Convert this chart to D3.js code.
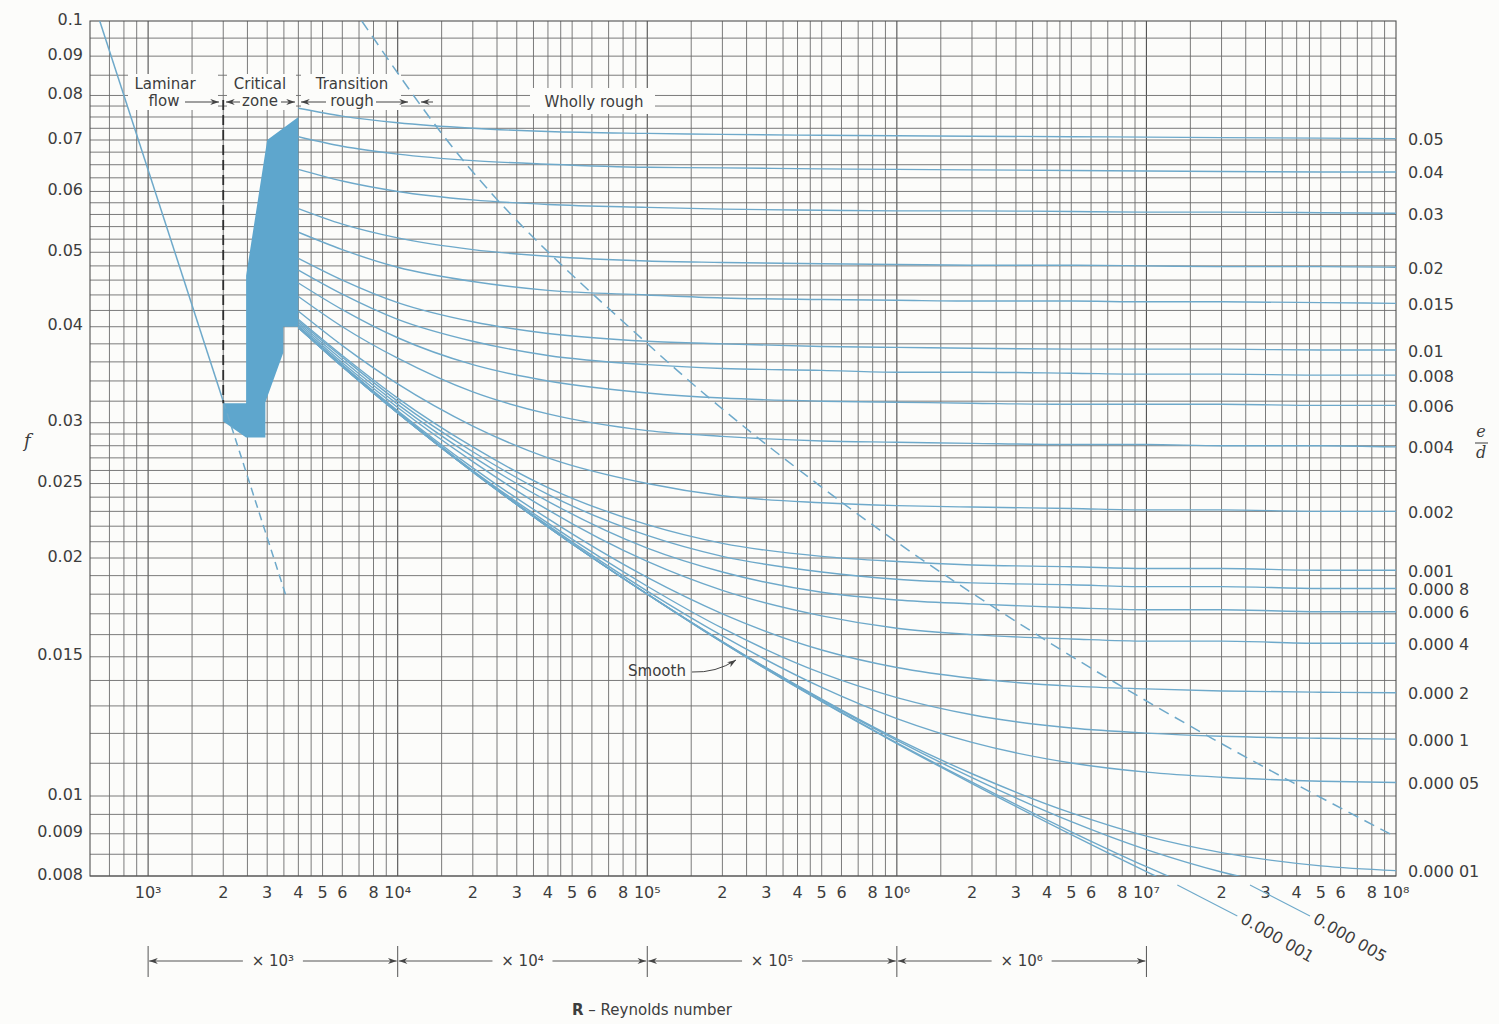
<!DOCTYPE html>
<html>
<head>
<meta charset="utf-8">
<script src="https://cdn.jsdelivr.net/npm/d3@7"></script>
<style>
  body { margin: 0; background: #fcfcfa; }
  svg { display: block; font-family: "DejaVu Sans", sans-serif; }
</style>
</head>
<body>
<svg id="chart" width="1499" height="1024"></svg>
<script>
// Reynolds numbers at which the friction factor curves were read
var reGrid = [4e3, 6e3, 1e4, 2e4, 4e4, 1e5, 2e5, 5e5, 1e6, 2e6, 5e6, 1e7, 2e7, 5e7, 1e8];

// relative roughness e/d, one curve per entry
var roughLabels = ["0.05", "0.04", "0.03", "0.02", "0.015", "0.01", "0.008", "0.006", "0.004",
  "0.002", "0.001", "0.000 8", "0.000 6", "0.000 4", "0.000 2", "0.000 1", "0.000 05",
  "0.000 01", "0.000 005", "0.000 001"];
var roughF = [
  [0.0770, 0.0752, 0.0737, 0.0725, 0.0718, 0.0714, 0.0712, 0.0710, 0.0709, 0.0708, 0.0707, 0.0706, 0.0705, 0.0704, 0.0703],
  [0.0707, 0.0687, 0.0671, 0.0658, 0.0651, 0.0645, 0.0644, 0.0642, 0.0641, 0.0640, 0.0639, 0.0638, 0.0637, 0.0636, 0.0636],
  [0.0641, 0.0619, 0.0600, 0.0585, 0.0577, 0.0572, 0.0569, 0.0567, 0.0566, 0.0566, 0.0565, 0.0564, 0.0564, 0.0563, 0.0562],
  [0.0570, 0.0544, 0.0522, 0.0504, 0.0494, 0.0487, 0.0485, 0.0483, 0.0482, 0.0481, 0.0481, 0.0480, 0.0479, 0.0479, 0.0478],
  [0.0531, 0.0504, 0.0478, 0.0458, 0.0446, 0.0440, 0.0436, 0.0434, 0.0433, 0.0432, 0.0432, 0.0431, 0.0431, 0.0430, 0.0429],
  [0.0491, 0.0460, 0.0430, 0.0406, 0.0392, 0.0383, 0.0380, 0.0377, 0.0376, 0.0375, 0.0374, 0.0374, 0.0374, 0.0373, 0.0373],
  [0.0474, 0.0441, 0.0409, 0.0383, 0.0367, 0.0357, 0.0353, 0.0351, 0.0349, 0.0349, 0.0348, 0.0347, 0.0347, 0.0346, 0.0346],
  [0.0456, 0.0421, 0.0387, 0.0357, 0.0340, 0.0328, 0.0323, 0.0320, 0.0319, 0.0318, 0.0317, 0.0317, 0.0317, 0.0316, 0.0316],
  [0.0438, 0.0400, 0.0364, 0.0329, 0.0308, 0.0293, 0.0288, 0.0284, 0.0283, 0.0282, 0.0281, 0.0281, 0.0280, 0.0280, 0.0279],
  [0.0419, 0.0378, 0.0337, 0.0297, 0.0270, 0.0250, 0.0241, 0.0236, 0.0234, 0.0233, 0.0232, 0.0231, 0.0231, 0.0230, 0.0230],
  [0.0409, 0.0367, 0.0323, 0.0279, 0.0247, 0.0221, 0.0209, 0.0201, 0.0198, 0.0196, 0.0195, 0.0194, 0.0194, 0.0193, 0.0193],
  [0.0407, 0.0365, 0.0320, 0.0275, 0.0242, 0.0214, 0.0201, 0.0192, 0.0188, 0.0186, 0.0185, 0.0184, 0.0184, 0.0183, 0.0183],
  [0.0405, 0.0362, 0.0317, 0.0271, 0.0237, 0.0206, 0.0192, 0.0181, 0.0177, 0.0175, 0.0173, 0.0172, 0.0172, 0.0171, 0.0171],
  [0.0403, 0.0359, 0.0314, 0.0267, 0.0231, 0.0198, 0.0182, 0.0169, 0.0163, 0.0160, 0.0158, 0.0157, 0.0157, 0.0156, 0.0156],
  [0.0401, 0.0357, 0.0311, 0.0262, 0.0225, 0.0189, 0.0170, 0.0153, 0.01454, 0.01409, 0.01377, 0.01366, 0.01358, 0.01353, 0.01351],
  [0.0400, 0.0356, 0.0310, 0.0260, 0.0222, 0.01842, 0.0163, 0.0143, 0.01332, 0.01267, 0.01219, 0.01201, 0.0119, 0.01183, 0.0118],
  [0.03995, 0.03554, 0.03091, 0.02593, 0.02205, 0.01816, 0.01594, 0.01372, 0.01253, 0.01169, 0.01101, 0.01072, 0.01056, 0.01044, 0.0104],
  [0.0399, 0.03549, 0.03088, 0.02587, 0.02196, 0.0180, 0.01567, 0.01326, 0.01181, 0.01067, 0.00954, 0.00894, 0.00854, 0.00823, 0.00812],
  [0.0399, 0.0355, 0.0309, 0.0259, 0.02195, 0.0180, 0.01568, 0.01323, 0.01176, 0.01055, 0.00931, 0.00861, 0.00809, 0.00766, 0.00747],
  [0.0399, 0.0355, 0.0309, 0.0259, 0.02195, 0.0180, 0.01564, 0.01318, 0.01167, 0.01041, 0.00905, 0.00821, 0.00752, 0.00682, 0.00643]
];
var smoothF = [0.0399, 0.0355, 0.0309, 0.0259, 0.02195, 0.0180, 0.01564, 0.01316, 0.01165, 0.01037, 0.00898, 0.0081, 0.00734, 0.00649, 0.00594];

// laminar line, its dashed extension, the wholly-rough boundary and the critical zone
var laminarRe = [640, 2000], laminarF = [0.1, 0.032];
var laminarDashRe = [2000, 3550], laminarDashF = [0.032, 0.018];
var boundaryRe = [7180, 15000, 103000, 650000, 4.0e6, 1.83e7, 3.9e7, 1e8];
var boundaryF = [0.1, 0.0714, 0.0377, 0.0232, 0.0157, 0.01183, 0.01038, 0.00892];
var criticalRe = [4000, 3000, 2470, 2470, 2000, 2000, 2470, 2950, 2950, 3480, 3480, 4000];
var criticalF = [0.0750, 0.0700, 0.0466, 0.0318, 0.0318, 0.0301, 0.0287, 0.0287, 0.0319, 0.0370, 0.0400, 0.0400];

// axis labels
var fTicks = [0.1, 0.09, 0.08, 0.07, 0.06, 0.05, 0.04, 0.03, 0.025, 0.02, 0.015, 0.01, 0.009, 0.008];
var reDecades = [3, 4, 5, 6, 7, 8];
var reMinorLabels = [2, 3, 4, 5, 6, 8];
var multiplierExps = [3, 4, 5, 6];
var supDigits = {"3": "\u00b3", "4": "\u2074", "5": "\u2075", "6": "\u2076", "7": "\u2077", "8": "\u2078"};

var inkBlue = "#6ea9ca",
    fillBlue = "#5ea6cd",
    textGrey = "#3d3d3d",
    gridGrey = "#6c6c6c";

var svg = d3.select("#chart");
var plotLeft = 90, plotRight = 1396, plotTop = 21, plotBottom = 876;

var x = d3.scaleLog().domain([585, 1e8]).range([plotLeft, plotRight]);
// the printed chart is slightly uneven, so the log scale is pinned at a few labels
var y = d3.scaleLog().domain([0.1, 0.02, 0.01, 0.008]).range([plotTop, 558, 796, plotBottom]);

svg.append("rect").attr("width", 1499).attr("height", 1024).attr("fill", "#fcfcfa");

// arrow heads
var defs = svg.append("defs");
defs.append("marker")
    .attr("id", "head")
    .attr("viewBox", "0 -4 10 8")
    .attr("refX", 10).attr("refY", 0)
    .attr("markerUnits", "userSpaceOnUse")
    .attr("markerWidth", 9).attr("markerHeight", 7)
    .attr("orient", "auto")
  .append("path")
    .attr("d", "M0,-3.5L10,0L0,3.5L3,0Z")
    .attr("fill", "#444");
defs.append("clipPath").attr("id", "plotClip")
  .append("rect")
    .attr("x", plotLeft).attr("y", plotTop)
    .attr("width", plotRight - plotLeft).attr("height", plotBottom - plotTop);

// grid
var grid = svg.append("g");
var vMults = [1, 1.5, 2, 2.5, 3, 3.5, 4, 4.5, 5, 6, 7, 8, 9];
var vLines = [];
[2, 3, 4, 5, 6, 7].forEach(function(e) {
  vMults.forEach(function(m) {
    var v = m * Math.pow(10, e);
    if(v > 650 && v < 1e8) vLines.push({v: v, major: m === 1});
  });
});
grid.selectAll(".vg").data(vLines).enter().append("line")
    .attr("x1", function(d) { return x(d.v); })
    .attr("x2", function(d) { return x(d.v); })
    .attr("y1", plotTop).attr("y2", plotBottom)
    .attr("stroke", function(d) { return d.major ? "#505050" : gridGrey; })
    .attr("stroke-width", function(d) { return d.major ? 1.1 : 0.9; });

var gridSteps = [[0.008, 0.01, 0.0005], [0.01, 0.03, 0.001], [0.03, 0.06, 0.002], [0.06, 0.08, 0.0025], [0.08, 0.1, 0.005]];
var hLines = [];
gridSteps.forEach(function(s) {
  var n = Math.round((s[1] - s[0]) / s[2]);
  for(var i = 0; i < n; i++) hLines.push(+(s[0] + i * s[2]).toFixed(5));
});
grid.selectAll(".hg").data(hLines).enter().append("line")
    .attr("x1", plotLeft).attr("x2", plotRight)
    .attr("y1", function(d) { return y(d); })
    .attr("y2", function(d) { return y(d); })
    .attr("stroke", gridGrey)
    .attr("stroke-width", 0.9);
grid.append("rect")
    .attr("x", plotLeft).attr("y", plotTop)
    .attr("width", plotRight - plotLeft).attr("height", plotBottom - plotTop)
    .attr("fill", "none").attr("stroke", "#505050").attr("stroke-width", 1.1);

// blank patches behind the zone captions
var paper = "#fcfcfa";
[[128, 74, 90, 36], [227, 74, 69, 36], [301, 74, 100, 36], [530, 88, 125, 26]].forEach(function(b) {
  svg.append("rect").attr("x", b[0]).attr("y", b[1]).attr("width", b[2]).attr("height", b[3]).attr("fill", paper);
});

var plot = svg.append("g").attr("clip-path", "url(#plotClip)");

var line = d3.line()
    .x(function(d) { return x(d[0]); })
    .y(function(d) { return y(d[1]); });
var smoothLine = d3.line()
    .x(function(d) { return x(d[0]); })
    .y(function(d) { return y(d[1]); })
    .curve(d3.curveMonotoneX);

// critical zone
plot.append("path")
    .attr("d", line(d3.zip(criticalRe, criticalF)) + "Z")
    .attr("fill", fillBlue);

// laminar flow
plot.append("path")
    .attr("d", line(d3.zip(laminarRe, laminarF)))
    .attr("fill", "none").attr("stroke", inkBlue).attr("stroke-width", 1.5);
plot.append("path")
    .attr("d", line(d3.zip(laminarDashRe, laminarDashF)))
    .attr("fill", "none").attr("stroke", inkBlue).attr("stroke-width", 1.5)
    .attr("stroke-dasharray", "8,5");

// Re = 2000 divider
svg.append("line")
    .attr("x1", x(2000)).attr("x2", x(2000))
    .attr("y1", 100).attr("y2", y(0.0318))
    .attr("stroke", "#2e2e2e").attr("stroke-width", 1.8)
    .attr("stroke-dasharray", "10,5");

// friction factor curves
plot.selectAll(".rough").data(roughF).enter().append("path")
    .attr("d", function(f) { return smoothLine(d3.zip(reGrid, f)); })
    .attr("fill", "none").attr("stroke", inkBlue).attr("stroke-width", 1.4);
plot.append("path")
    .attr("d", smoothLine(d3.zip(reGrid, smoothF)))
    .attr("fill", "none").attr("stroke", inkBlue).attr("stroke-width", 1.4);

// wholly rough boundary
plot.append("path")
    .attr("d", smoothLine(d3.zip(boundaryRe, boundaryF)))
    .attr("fill", "none").attr("stroke", inkBlue).attr("stroke-width", 1.5)
    .attr("stroke-dasharray", "11,7");

// left axis
svg.selectAll(".fl").data(fTicks).enter().append("text")
    .attr("x", 83).attr("y", function(d) { return y(d) - 1; })
    .attr("text-anchor", "end").attr("dominant-baseline", "middle")
    .attr("font-size", 16).attr("fill", textGrey)
    .text(function(d) { return d; });
svg.append("text")
    .attr("x", 24).attr("y", 447)
    .attr("font-family", "DejaVu Serif, serif").attr("font-style", "italic")
    .attr("font-size", 18).attr("fill", textGrey)
    .text("f");

// bottom axis
var xLabels = [];
reDecades.forEach(function(e) {
  xLabels.push({v: Math.pow(10, e), t: "10" + supDigits[e]});
  if(e < 8) reMinorLabels.forEach(function(m) { xLabels.push({v: m * Math.pow(10, e), t: String(m)}); });
});
svg.selectAll(".xl").data(xLabels).enter().append("text")
    .attr("x", function(d) { return x(d.v); }).attr("y", 893)
    .attr("text-anchor", "middle").attr("dominant-baseline", "middle")
    .attr("font-size", 16).attr("fill", textGrey)
    .text(function(d) { return d.t; });

// right-hand roughness labels
var sideLabels = roughLabels.slice(0, 18);
svg.selectAll(".rl").data(sideLabels).enter().append("text")
    .attr("x", 1408)
    .attr("y", function(d, i) { return y(roughF[i][roughF[i].length - 1]) + 2; })
    .attr("dominant-baseline", "middle")
    .attr("font-size", 16).attr("fill", textGrey)
    .text(function(d) { return d; });

// e/d
svg.append("text").attr("x", 1481).attr("y", 437)
    .attr("text-anchor", "middle").attr("font-family", "DejaVu Serif, serif")
    .attr("font-style", "italic").attr("font-size", 16).attr("fill", textGrey).text("e");
svg.append("line").attr("x1", 1475).attr("x2", 1488).attr("y1", 443).attr("y2", 443)
    .attr("stroke", textGrey).attr("stroke-width", 1);
svg.append("text").attr("x", 1481).attr("y", 458)
    .attr("text-anchor", "middle").attr("font-family", "DejaVu Serif, serif")
    .attr("font-style", "italic").attr("font-size", 16).attr("fill", textGrey).text("d");

// labels for the two curves that leave through the bottom
[[1.33e7, roughLabels[19]], [2.6e7, roughLabels[18]]].forEach(function(p) {
  var x0 = x(p[0]);
  svg.append("line")
      .attr("x1", x0).attr("y1", plotBottom + 9)
      .attr("x2", x0 + 60).attr("y2", plotBottom + 40)
      .attr("stroke", inkBlue).attr("stroke-width", 1.1);
  svg.append("text")
      .attr("transform", "translate(" + (x0 + 62) + "," + (plotBottom + 46) + ") rotate(30)")
      .attr("font-size", 16).attr("fill", textGrey)
      .text(p[1]);
});

// zone captions
var captions = [
  ["Laminar", 165, 84], ["flow", 164, 101],
  ["Critical", 260, 84], ["zone", 260, 101],
  ["Transition", 352, 84], ["rough", 352, 101],
  ["Wholly rough", 594, 102]
];
svg.selectAll(".cap").data(captions).enter().append("text")
    .attr("x", function(d) { return d[1]; }).attr("y", function(d) { return d[2]; })
    .attr("text-anchor", "middle").attr("dominant-baseline", "middle")
    .attr("font-size", 15).attr("fill", textGrey)
    .text(function(d) { return d[0]; });

var arrows = [[185, 219], [240, 226], [281, 295], [326, 301], [376, 408], [433, 421]];
svg.selectAll(".arr").data(arrows).enter().append("line")
    .attr("x1", function(d) { return d[0]; }).attr("x2", function(d) { return d[1]; })
    .attr("y1", 102).attr("y2", 102)
    .attr("stroke", "#444").attr("stroke-width", 1)
    .attr("marker-end", "url(#head)");

// smooth label
svg.append("text").attr("x", 657).attr("y", 671)
    .attr("text-anchor", "middle").attr("dominant-baseline", "middle")
    .attr("font-size", 15).attr("fill", textGrey).text("Smooth");
svg.append("path")
    .attr("d", "M692,672 Q716,673 736,660")
    .attr("fill", "none").attr("stroke", "#444").attr("stroke-width", 1)
    .attr("marker-end", "url(#head)");

// multiplier bands under the axis
var band = svg.append("g");
var bandY = 961;
reDecades.slice(0, 5).forEach(function(e) {
  band.append("line")
      .attr("x1", x(Math.pow(10, e))).attr("x2", x(Math.pow(10, e)))
      .attr("y1", 946).attr("y2", 977)
      .attr("stroke", "#555").attr("stroke-width", 1);
});
multiplierExps.forEach(function(e) {
  var a = x(Math.pow(10, e)), b = x(Math.pow(10, e + 1)), mid = (a + b) / 2;
  band.append("text")
      .attr("x", mid).attr("y", bandY)
      .attr("text-anchor", "middle").attr("dominant-baseline", "middle")
      .attr("font-size", 15).attr("fill", textGrey)
      .text("\u00d7 10" + supDigits[e]);
  band.append("line").attr("x1", mid - 30).attr("x2", a + 1).attr("y1", bandY).attr("y2", bandY)
      .attr("stroke", "#555").attr("stroke-width", 1).attr("marker-end", "url(#head)");
  band.append("line").attr("x1", mid + 30).attr("x2", b - 1).attr("y1", bandY).attr("y2", bandY)
      .attr("stroke", "#555").attr("stroke-width", 1).attr("marker-end", "url(#head)");
});

var axisTitle = svg.append("text")
    .attr("x", 652).attr("y", 1010)
    .attr("text-anchor", "middle").attr("dominant-baseline", "middle")
    .attr("font-size", 15).attr("fill", textGrey);
axisTitle.append("tspan").attr("font-weight", "bold").text("R");
axisTitle.append("tspan").text(" \u2013 Reynolds number");
</script>
</body>
</html>
